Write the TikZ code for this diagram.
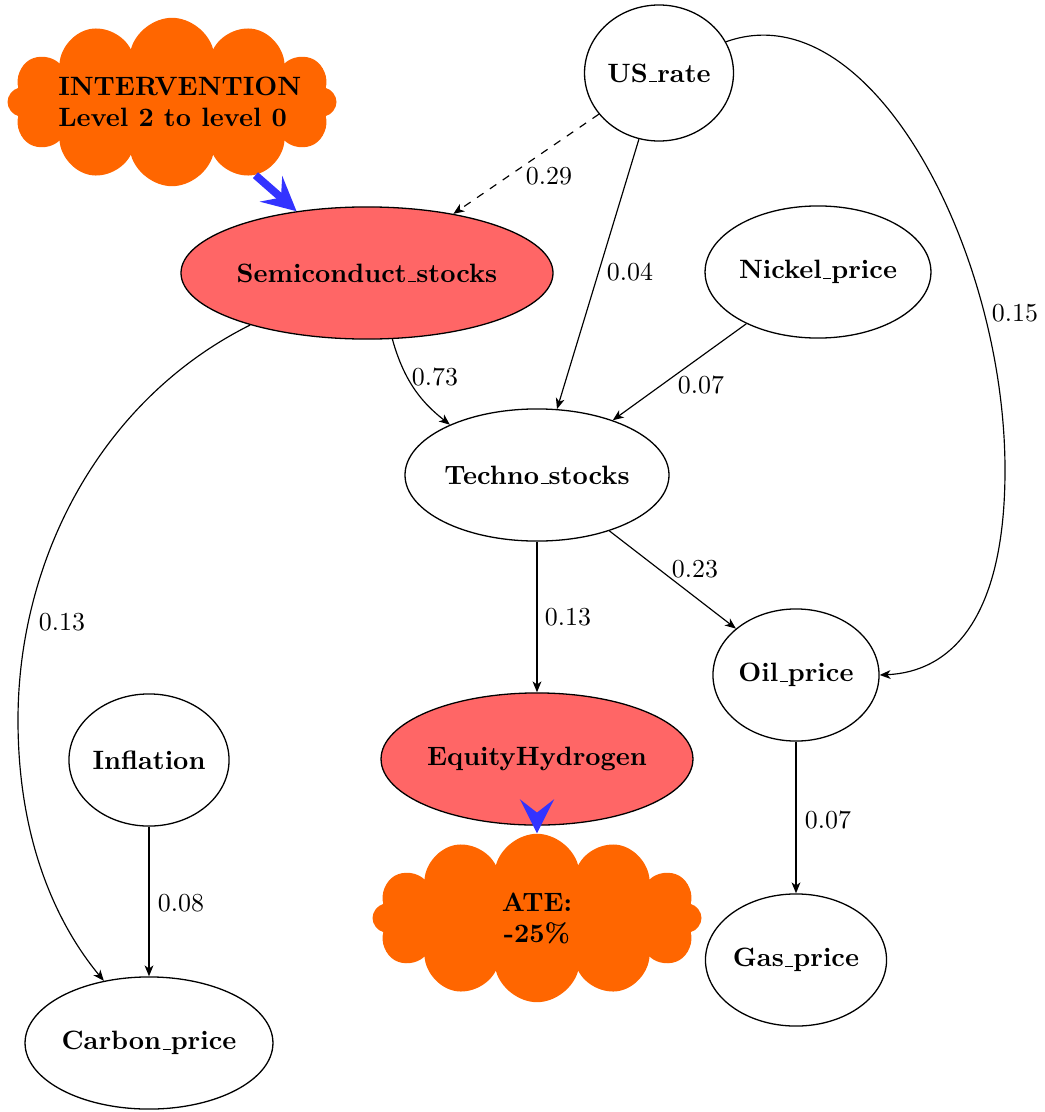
\documentclass[tikz,border=0pt]{standalone}
\usetikzlibrary{shapes.geometric,shapes.symbols,arrows.meta}
\definecolor{causeorange}{RGB}{255,102,0}
\definecolor{treatred}{RGB}{255,102,102}
\definecolor{effectblue}{RGB}{51,51,255}
% zero-width text box so the ellipse size is set by minimum width/height only
\newcommand\ctext[1]{\makebox[0pt]{#1}}
% short baseline rule, as the classic \_ of Computer Modern
\newcommand\ruleus{\leavevmode\kern.06em\vbox{\hrule width.3em}}
\begin{document}
\begin{tikzpicture}[x=0.386pt,y=-0.386pt,
  var/.style={ellipse,draw,line width=0.5pt,inner sep=0pt,
    font=\fontsize{10.25pt}{12pt}\selectfont\bfseries,minimum height=51pt},
  treated/.style={var,fill=treatred},
  bubble/.style={cloud,cloud puffs=12,aspect=2,fill=causeorange,inner sep=0pt,
    minimum width=127pt,minimum height=65pt,font=\fontsize{10.25pt}{12pt}\selectfont\bfseries},
  link/.style={line width=0.45pt,-{Stealth[length=4.2pt,width=3.4pt,inset=1.2pt]}},
  wt/.style={inner sep=0pt},
  push/.style={draw=effectblue,line width=3pt,-{Stealth[length=13pt,width=13pt,inset=5pt]}}]
\useasboundingbox (0,0) rectangle (1045,1112);

% variables
\node[var,minimum width=57.5pt,minimum height=52.5pt] (us) at (659,73) {\ctext{US\ruleus rate}};
\node[treated,minimum width=143.6pt] (semi) at (367,273) {\ctext{Semiconduct\ruleus stocks}};
\node[var,minimum width=87.2pt] (nickel) at (818,272) {\ctext{Nickel\ruleus price}};
\node[var,minimum width=101.9pt] (techno) at (537,475) {\ctext{Techno\ruleus stocks}};
\node[var,minimum width=64.1pt] (oil) at (796,675) {\ctext{Oil\ruleus price}};
\node[var,minimum width=61.8pt] (inflation) at (149,760) {\ctext{Inflation}};
\node[treated,minimum width=120.4pt] (equity) at (537,759) {\ctext{EquityHydrogen}};
\node[var,minimum width=69.9pt] (gas) at (796,960) {\ctext{Gas\ruleus price}};
\node[var,minimum width=95.7pt] (carbon) at (149,1043) {\ctext{Carbon\ruleus price}};

% intervention and effect clouds
\node[bubble] (intervention) at (172,102)
  {\ctext{\hspace{6pt}\raisebox{-3.7pt}[0pt][0pt]{\begin{tabular}{@{}l@{}}INTERVENTION\\Level 2 to level 0\end{tabular}}}};
\node[bubble] (ate) at (537,918)
  {\ctext{\raisebox{-3.7pt}[0pt][0pt]{\begin{tabular}{@{}c@{}}ATE:\\-25\%\end{tabular}}}};

% causal links
\draw[link,dashed] (us) -- (semi);
\draw[link] (us) -- (techno);
\draw[link] (nickel) -- (techno);
\draw[link] (techno) -- (equity);
\draw[link] (techno) -- (oil);
\draw[link] (inflation) -- (carbon);
\draw[link] (oil) -- (gas);
\draw[link] (semi.291) .. controls (405,385) and (425,405) .. (techno.150);
\draw[link] (semi.204) .. controls (100,400) and (18,560) .. (18,720)
  .. controls (18,860) and (70,940) .. (carbon.126);
\draw[link] (us.25) .. controls (870,-10) and (1005,250) .. (1005,470)
  .. controls (1005,620) and (950,672) .. (oil.east);

% link weights
\node[wt] (w1) at (549,176) {0.29};
\node[wt] (w2) at (630,272) {0.04};
\node[wt] (w3) at (1015,313) {0.15};
\node[wt] (w4) at (435,377) {0.73};
\node[wt] (w5) at (701,385) {0.07};
\node[wt] (w6) at (62,622) {0.13};
\node[wt] (w7) at (568,617) {0.13};
\node[wt] (w8) at (695,569) {0.23};
\node[wt] (w9) at (181,903) {0.08};
\node[wt] (w10) at (828,820) {0.07};

% intervention and effect arrows
\draw[push] (intervention) -- (semi);
\draw[push] (equity) -- (ate);
\end{tikzpicture}
\end{document}
